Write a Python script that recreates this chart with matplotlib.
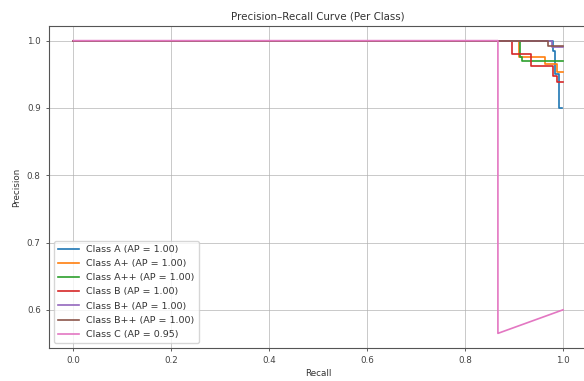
import numpy as np
import matplotlib
matplotlib.use("Agg")
import matplotlib.pyplot as plt

######################################## Precision-Recall points ####################################
class_names = ["Class A", "Class A+", "Class A++", "Class B", "Class B+", "Class B++", "Class C"]
ap_values = [1.00, 1.00, 1.00, 1.00, 1.00, 1.00, 0.95]

recall_A = [0.0, 0.979, 0.979, 0.984, 0.984, 0.9925, 0.9925, 0.997]
precision_A = [1.0, 1.0, 0.985, 0.985, 0.950, 0.950, 0.900, 0.900]

recall_Ap = [0.0, 0.910, 0.910, 0.963, 0.963, 0.987, 0.987, 1.0]
precision_Ap = [1.0, 1.0, 0.975, 0.975, 0.965, 0.965, 0.953, 0.953]

recall_App = [0.0, 0.912, 0.912, 0.916, 0.916, 1.0]
precision_App = [1.0, 1.0, 0.975, 0.975, 0.969, 0.969]

recall_B = [0.0, 0.896, 0.896, 0.935, 0.935, 0.979, 0.979, 0.987, 0.987, 1.0]
precision_B = [1.0, 1.0, 0.980, 0.980, 0.963, 0.963, 0.948, 0.948, 0.939, 0.939]

recall_Bp = [0.0, 0.978, 0.978, 1.0]
precision_Bp = [1.0, 1.0, 0.990, 0.990]

recall_Bpp = [0.0, 0.969, 0.969, 1.0]
precision_Bpp = [1.0, 1.0, 0.9925, 0.9925]

recall_C = [0.0, 0.867, 0.867, 1.0]
precision_C = [1.0, 1.0, 0.565, 0.600]

recalls = [recall_A, recall_Ap, recall_App, recall_B, recall_Bp, recall_Bpp, recall_C]
precisions = [precision_A, precision_Ap, precision_App, precision_B, precision_Bp, precision_Bpp, precision_C]

################################################# Plotting ##############################################################
fig = plt.figure(figsize=(5.84, 3.81), dpi=100)
# axes run a little past the right edge, as in the (cropped) reference
ax = fig.add_axes([49 / 584, 33 / 381, 538.5 / 584, 322 / 381])

for name, ap, rec, prec in zip(class_names, ap_values, recalls, precisions):
    ax.plot(rec, prec, linewidth=1.2, label=f"{name} (AP = {ap:.2f})")

ax.set_title("Precision–Recall Curve (Per Class)", fontsize=7.4, color="#333333", pad=5)
ax.set_xlabel("Recall", fontsize=6.3, color="#333333", labelpad=3)
ax.set_ylabel("Precision", fontsize=6.3, color="#333333", labelpad=4)
ax.tick_params(labelsize=6.3, colors="#444444", length=2.5, width=0.6)
ax.grid(True, color="#b0b0b0", linewidth=0.6, alpha=0.8)
for spine in ax.spines.values():
    spine.set_color("#555555")
    spine.set_linewidth(0.8)

ax.legend(loc="lower left", fontsize=6.8, handlelength=2.2, labelcolor="#333333",
          framealpha=0.8, borderpad=0.45, labelspacing=0.55)

plt.savefig("out.png", dpi=100)
